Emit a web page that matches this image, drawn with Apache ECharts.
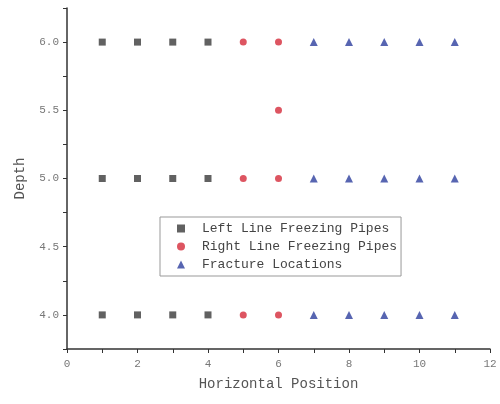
<!DOCTYPE html>
<html><head><meta charset="utf-8">
<script src="https://cdn.jsdelivr.net/npm/echarts@6/dist/echarts.min.js"></script>
<style>html,body{margin:0;padding:0;background:#fff}#c{width:500px;height:404px}</style>
</head><body><div id="c"></div>
<script>
const leftPipes = [[1,6],[2,6],[3,6],[4,6],[1,5],[2,5],[3,5],[4,5],[1,4],[2,4],[3,4],[4,4]];
const rightPipes = [[5,6],[6,6],[6,5.5],[5,5],[6,5],[5,4],[6,4]];
const fractures = [[7,6],[8,6],[9,6],[10,6],[11,6],[7,5],[8,5],[9,5],[10,5],[11,5],[7,4],[8,4],[9,4],[10,4],[11,4]];
const seriesNames = ['Left Line Freezing Pipes','Right Line Freezing Pipes','Fracture Locations'];
const font = '"Liberation Mono", "DejaVu Sans Mono", monospace';
const chart = echarts.init(document.getElementById('c'), null, {renderer:'canvas'});
chart.setOption({
  animation:false,
  backgroundColor:'#fff',
  grid:{left:67,right:10,top:8,bottom:55},
  legend:{
    orient:'vertical', left:160, top:217,
    itemWidth:8, itemHeight:8, itemGap:5,
    padding:[5,4,5,17],
    borderColor:'#999', borderWidth:1,
    textStyle:{fontFamily:font,fontSize:13,color:'#444',padding:[0,0,0,12]},
    data:seriesNames
  },
  xAxis:{
    type:'value', min:0, max:12, interval:1,
    name:'Horizontal Position', nameLocation:'middle', nameGap:28,
    nameTextStyle:{fontFamily:font,fontSize:14,color:'#555'},
    axisLine:{show:true,lineStyle:{color:'#333',width:1.5}},
    axisTick:{show:true,inside:false,length:4,lineStyle:{color:'#333'}},
    axisLabel:{fontFamily:font,fontSize:11,color:'#777',margin:10,
      formatter:v=> (v%2===0? String(v):'')},
    splitLine:{show:false}
  },
  yAxis:{
    type:'value', min:3.75, max:6.25, interval:0.25,
    name:'Depth', nameLocation:'middle', nameGap:40,
    nameTextStyle:{fontFamily:font,fontSize:14,color:'#555'},
    axisLine:{show:true,lineStyle:{color:'#333',width:1.5}},
    axisTick:{show:true,inside:false,length:4,lineStyle:{color:'#333'}},
    axisLabel:{fontFamily:font,fontSize:11,color:'#777',margin:8,
      formatter:v=> (Math.abs(v*2-Math.round(v*2))<1e-6 ? v.toFixed(1):'')},
    splitLine:{show:false}
  },
  series:[
    {name:seriesNames[0],type:'scatter',symbol:'rect',symbolSize:7,data:leftPipes,itemStyle:{color:'#3a3a3a'}},
    {name:seriesNames[1],type:'scatter',symbol:'circle',symbolSize:7,data:rightPipes,itemStyle:{color:'#d42a3a'}},
    {name:seriesNames[2],type:'scatter',symbol:'triangle',symbolSize:8,data:fractures,itemStyle:{color:'#2d3f9e'}}
  ]
});
</script></body></html>
